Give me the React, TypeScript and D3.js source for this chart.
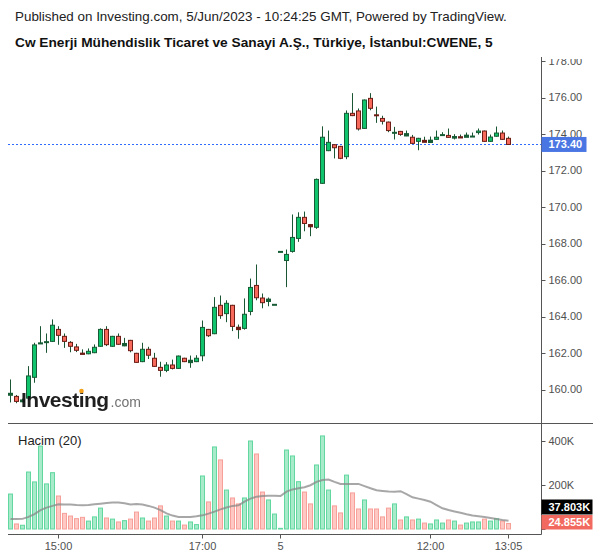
import React from 'react';
import * as d3 from 'd3';

// ---- data ----
const sessions = [
  { day: '2023-06-02', start: '14:20', count: 45 },
  { day: '2023-06-05', start: '09:55', count: 39 },
];

const opens = [
  159.71, 159.65, 159.35, 159.5, 160.64, 162.5, 162.58, 162.61, 163.32, 162.94,
  162.61, 162.36, 162.0, 161.93, 161.99, 162.34, 163.32, 162.34, 162.94, 162.43,
  162.72, 162.01, 161.5, 162.23, 161.74, 161.24, 161.02, 161.37, 161.13, 161.74,
  161.51, 161.5, 161.82, 163.32, 163.03, 164.64, 164.13, 164.64, 163.45, 163.32,
  164.25, 165.73, 165.04, 164.86, 164.64, 167.54, 167.04, 167.54, 168.25, 169.46,
  169.07, 168.86, 171.27, 173.06, 173.44, 173.35, 172.73, 175.16, 175.29, 174.28,
  175.98, 175.05, 174.88, 174.68, 174.06, 174.17, 173.93, 173.85, 173.57, 173.68,
  173.57, 173.68, 173.93, 173.95, 173.79, 173.86, 173.85, 173.86, 174.05, 174.19,
  173.57, 173.85, 174.08, 173.79,
];
const highs = [
  160.55, 159.7, 159.5, 161.28, 162.56, 163.47, 163.07, 163.84, 163.47, 163.07,
  162.65, 162.5, 162.2, 162.25, 162.47, 163.35, 163.47, 162.94, 163.07, 162.83,
  162.72, 162.01, 162.56, 162.34, 162.01, 161.52, 161.5, 161.64, 161.86, 161.74,
  161.86, 161.88, 163.78, 163.32, 165.06, 165.15, 164.89, 164.64, 163.56, 164.99,
  166.08, 166.85, 165.26, 165.04, 164.64, 167.54, 167.67, 169.59, 169.71, 169.75,
  169.07, 171.56, 174.42, 174.19, 173.44, 173.35, 175.29, 176.24, 175.4, 175.89,
  176.24, 175.5, 175.0, 174.68, 174.39, 174.17, 174.19, 173.95, 173.79, 173.85,
  173.86, 174.19, 174.1, 174.3, 173.99, 173.97, 174.08, 174.08, 174.3, 174.19,
  173.97, 174.41, 174.19, 173.86,
];
const lows = [
  159.29, 159.25, 159.3, 159.4, 160.37, 162.5, 162.01, 162.6, 162.45, 162.28,
  162.04, 162.05, 161.93, 161.93, 161.99, 162.34, 162.38, 162.34, 162.45, 162.37,
  162.04, 161.46, 161.5, 161.67, 161.24, 160.7, 160.95, 161.1, 161.13, 161.5,
  161.19, 161.5, 161.55, 162.88, 163.03, 163.87, 163.69, 163.2, 162.78, 163.28,
  164.07, 164.89, 164.45, 164.56, 164.64, 167.54, 165.61, 167.5, 168.09, 168.67,
  168.4, 168.8, 171.27, 173.06, 172.66, 172.62, 172.62, 174.98, 174.19, 174.28,
  175.3, 174.61, 174.52, 174.1, 173.7, 173.9, 173.88, 173.46, 173.11, 173.57,
  173.55, 173.68, 173.93, 173.79, 173.7, 173.79, 173.85, 173.86, 173.97, 173.57,
  173.57, 173.85, 173.68, 173.4,
];
const closes = [
  159.82, 159.32, 159.45, 160.77, 162.47, 162.56, 162.61, 163.55, 162.94, 162.61,
  162.34, 162.12, 161.93, 162.12, 162.34, 163.32, 162.43, 162.94, 162.45, 162.56,
  162.1, 161.46, 162.23, 161.85, 161.24, 161.02, 161.37, 161.13, 161.86, 161.5,
  161.64, 161.74, 163.43, 162.92, 164.53, 164.02, 164.75, 163.43, 163.32, 164.15,
  165.62, 165.0, 164.73, 164.99, 164.64, 167.54, 167.43, 168.36, 169.46, 169.07,
  168.95, 171.54, 173.85, 173.57, 173.22, 172.64, 175.16, 174.98, 174.25, 175.89,
  175.38, 175.0, 174.67, 174.16, 174.07, 173.95, 174.06, 173.46, 173.79, 173.57,
  173.7, 173.85, 173.95, 173.79, 173.88, 173.79, 173.97, 173.86, 174.19, 173.57,
  173.86, 174.08, 173.68, 173.4,
];
const volumesK = [
  159, 23, 17, 259, 214, 377, 205, 256, 150, 71,
  59, 47, 53, 36, 55, 95, 50, 45, 32, 38,
  45, 77, 50, 36, 50, 105, 59, 36, 36, 18,
  32, 20, 241, 123, 373, 314, 177, 141, 114, 141,
  400, 341, 168, 132, 68, 3, 359, 332, 215, 168,
  114, 291, 423, 177, 105, 73, 245, 164, 91, 132,
  91, 91, 55, 95, 114, 41, 55, 41, 45, 27,
  23, 41, 27, 41, 36, 18, 27, 32, 32, 45,
  36, 47, 36, 24.855,
];
const volumeMAK = [
  45, 45, 46, 55, 68, 86, 97, 105, 112, 111,
  111, 109, 108, 109, 112, 115, 118, 120, 120, 117,
  111, 114, 111, 105, 97, 86, 71, 61, 55, 55,
  55, 58, 62, 70, 79, 89, 98, 105, 108, 124,
  138, 147, 150, 151, 151, 150, 170, 180, 185, 190,
  199, 214, 223, 225, 214, 205, 205, 205, 205, 195,
  185, 176, 173, 170, 169, 172, 159, 144, 138, 132,
  124, 109, 94, 86, 80, 74, 67, 61, 58, 55,
  50, 45, 41, 37.803,
];

const priceTicks = [160, 162, 164, 166, 168, 170, 172, 174, 176, 178];
const volumeTicks = [0, 200000, 400000];
const volumeTickLabels = ['', '200K', '400K'];
const timeTicks = ['2023-06-02 15:00', '2023-06-02 17:00', '2023-06-05 09:55', '2023-06-05 12:00', '2023-06-05 13:05'];
const timeTickLabels = ['15:00', '17:00', '5', '12:00', '13:05'];

const lastPrice = 173.4;
const lastVolumeLabel = '24.855K';
const lastMALabel = '37.803K';
const titleLine1 = 'Published on Investing.com, 5/Jun/2023 - 10:24:25 GMT, Powered by TradingView.';
const titleLine2 = 'Cw Enerji Mühendislik Ticaret ve Sanayi A.Ş., Türkiye, İstanbul:CWENE, 5';
const volumeTitle = 'Hacim (20)';

function buildTimes(): string[] {
  const out: string[] = [];
  sessions.forEach((s) => {
    const [h, m] = s.start.split(':').map(Number);
    let mins = h * 60 + m;
    for (let k = 0; k < s.count; k++) {
      const hh = String(Math.floor(mins / 60)).padStart(2, '0');
      const mm = String(mins % 60).padStart(2, '0');
      out.push(`${s.day} ${hh}:${mm}`);
      mins += 5;
    }
  });
  return out;
}
const times = buildTimes();

const FONT = "'Liberation Sans', Arial, Helvetica, sans-serif";
const UP_FILL = '#0fc46d';
const UP_BORDER = '#175c34';
const DN_FILL = '#f7695b';
const DN_BORDER = '#6d1d15';
const WICK = '#1a5633';
const AXIS = '#555555';
const LABEL = '#505050';

export default function App() {
  const x = d3.scaleBand<string>().domain(times).range([7.5, 7.5 + times.length * 6]).padding(0);
  const cx = (i: number) => (x(times[i]) as number) + x.bandwidth() / 2;
  const yP = d3.scaleLinear().domain([160, 178]).range([389.5, 61]);
  const yV = d3.scaleLinear().domain([0, 400000]).range([529, 441]);

  const axisX = 541.5;
  const maLine = d3
    .line<number>()
    .x((_, i) => cx(i))
    .y((d) => yV(d * 1000))(volumeMAK);

  const lastY = yP(lastPrice);

  return (
    <svg
      width={600}
      height={558}
      style={{ position: 'absolute', left: 0, top: 0, background: '#fff' }}
      fontFamily={FONT}
    >
      <defs>
        <clipPath id="priceAxisClip">
          <rect x={530} y={59} width={70} height={364} />
        </clipPath>
        <filter id="logoBlur" x="-10%" y="-30%" width="120%" height="160%">
          <feGaussianBlur stdDeviation="0.7" />
        </filter>
      </defs>
      <rect x={0} y={0} width={600} height={558} fill="#fff" />

      {/* titles */}
      <text x={15} y={21} fontSize={13.4} fill="#222">{titleLine1}</text>
      <text x={15} y={47} fontSize={13.7} fontWeight="bold" fill="#111">{titleLine2}</text>

      {/* current price dashed line */}
      <line x1={8} x2={axisX} y1={Math.round(lastY) - 0.5} y2={Math.round(lastY) - 0.5}
        stroke="#2f6bff" strokeWidth={1} strokeDasharray="2,2" />

      {/* candles */}
      {times.map((t, i) => {
        const o = opens[i], c = closes[i], h = highs[i], l = lows[i];
        const up = c >= o;
        const X = cx(i);
        const top = yP(Math.max(o, c));
        const bot = yP(Math.min(o, c));
        const bh = bot - top;
        return (
          <g key={t}>
            <line x1={X} x2={X} y1={yP(h)} y2={yP(l)} stroke={WICK} strokeWidth={1} />
            {bh < 2.5 ? (
              <rect x={X - 2.5} y={(top + bot) / 2 - 1} width={5} height={Math.max(2, bh + 1)}
                fill={up ? UP_BORDER : DN_BORDER} />
            ) : (
              <rect x={X - 2} y={top + 0.5} width={4} height={bh - 1}
                fill={up ? UP_FILL : DN_FILL} stroke={up ? UP_BORDER : DN_BORDER} strokeWidth={1} />
            )}
          </g>
        );
      })}

      {/* Investing.com logo */}
      <g opacity={0.92} filter="url(#logoBlur)">
        <text x={21} y={407} fontSize={21} fontWeight="bold" fill="#111" letterSpacing={-0.5}>Investing</text>
        <text x={110.5} y={407} fontSize={14} fill="#666">.com</text>
      </g>
      <circle cx={81.5} cy={391} r={2.3} fill="#f5a01a" />

      {/* price axis */}
      <line x1={axisX} x2={axisX} y1={57} y2={534.5} stroke={AXIS} strokeWidth={1} />
      <g clipPath="url(#priceAxisClip)">
        {priceTicks.map((p) => (
          <g key={p}>
            <line x1={axisX} x2={axisX + 4} y1={Math.round(yP(p)) + 0.5} y2={Math.round(yP(p)) + 0.5} stroke={AXIS} />
            <text x={548.5} y={yP(p)} dy="0.35em" fontSize={11} fill={LABEL}>{p.toFixed(2)}</text>
          </g>
        ))}
      </g>
      <rect x={axisX} y={lastY - 8} width={45} height={15} fill="#4a76e4" />
      <text x={548.5} y={lastY - 0.5} dy="0.35em" fontSize={11} fontWeight="bold" fill="#fff">{lastPrice.toFixed(2)}</text>

      {/* separator */}
      <line x1={8} x2={593} y1={423.5} y2={423.5} stroke={AXIS} strokeWidth={1} />

      {/* volume */}
      <text x={18} y={444.5} fontSize={13} fill="#222">{volumeTitle}</text>
      {times.map((t, i) => {
        const up = closes[i] >= opens[i];
        const X = cx(i);
        const v = volumesK[i] * 1000;
        const top = yV(v);
        return (
          <rect key={'v' + t} x={X - 2} y={top} width={4} height={Math.max(0.5, yV(0) - top)}
            fill={up ? '#a7ebca' : '#ffc8c3'} stroke={up ? '#62d7a0' : '#f6a099'} strokeWidth={1} />
        );
      })}
      <path d={maLine || ''} fill="none" stroke="#8a8a8a" strokeOpacity={0.75} strokeWidth={2} />

      {volumeTicks.map((v, k) => (
        <g key={v}>
          <line x1={axisX} x2={axisX + 4} y1={Math.round(yV(v)) + 0.5} y2={Math.round(yV(v)) + 0.5} stroke={AXIS} />
          {volumeTickLabels[k] && (
            <text x={548.5} y={yV(v)} dy="0.35em" fontSize={11} fill={LABEL}>{volumeTickLabels[k]}</text>
          )}
        </g>
      ))}
      <rect x={axisX} y={499.5} width={51} height={15} fill="#000" />
      <text x={548.5} y={507} dy="0.35em" fontSize={11} fontWeight="bold" fill="#fff">{lastMALabel}</text>
      <rect x={axisX} y={515} width={51} height={14.5} fill="#f26a5f" />
      <text x={548.5} y={522.2} dy="0.35em" fontSize={11} fontWeight="bold" fill="#fff">{lastVolumeLabel}</text>

      {/* time axis */}
      <line x1={8} x2={axisX} y1={534.5} y2={534.5} stroke={AXIS} strokeWidth={1} />
      {timeTicks.map((t, k) => {
        const i = times.indexOf(t);
        const X = cx(i);
        return (
          <g key={t}>
            <line x1={X} x2={X} y1={534.5} y2={538.5} stroke={AXIS} />
            <text x={X} y={546} dy="0.35em" fontSize={11} fill={LABEL} textAnchor="middle">{timeTickLabels[k]}</text>
          </g>
        );
      })}
    </svg>
  );
}
